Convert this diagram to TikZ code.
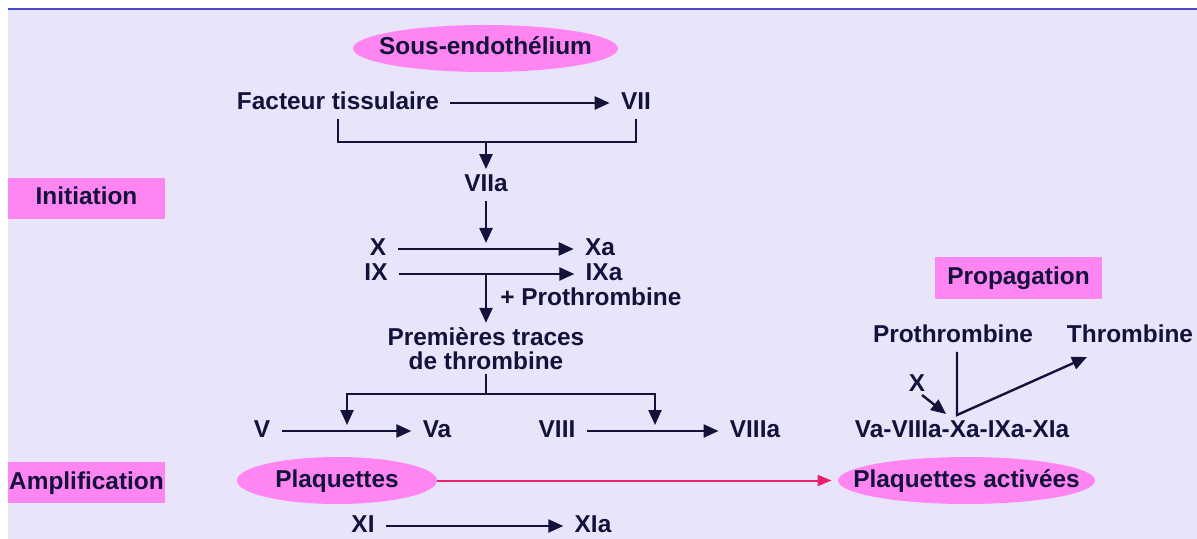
\documentclass[tikz,border=0pt]{standalone}
\usepackage{fontspec}
\setmainfont{Liberation Sans}
\usepackage{xcolor}
\usepackage{tikz}
\usetikzlibrary{positioning, arrows.meta, calc, shapes.geometric}
\definecolor{lavender}{HTML}{E8E5FB}
\definecolor{orchid}{HTML}{FF85F2}
\definecolor{navyink}{HTML}{12123A}
\definecolor{frameblue}{HTML}{4848C8}
\definecolor{plqred}{HTML}{E8206E}
\newcommand{\inblob}[1]{\makebox[0pt]{#1}}
\tikzset{
  lbl/.style={text=navyink, font=\fontsize{12.2}{12.2}\selectfont\bfseries,
              inner xsep=5.5pt, inner ysep=2pt},
  fac/.style={lbl, text height=9pt, text depth=2.5pt},
  phase/.style={fac, fill=orchid, inner sep=0pt, minimum width=78.5pt, minimum height=20.5pt},
  blob/.style={fac, ellipse, fill=orchid, inner sep=0pt, minimum height=23.5pt},
  flow/.style={draw=navyink, line width=1.2pt, -{Triangle[length=7.5pt, width=6.5pt]}},
  link/.style={draw=navyink, line width=1.2pt},
}

\begin{document}
\begin{tikzpicture}[x=0.5pt, y=-0.5pt]
  \useasboundingbox (0,0) rectangle (1197,539);
  \fill[white] (0,0) rectangle (1197,539);
  \fill[lavender] (8,9) rectangle (1197,539);
  \draw[frameblue, line width=0.7pt] (8,9) -- (1197,9);

  % phases
  \node[phase] (init) at (86.5,198.5) {Initiation};
  \node[phase] (ampl) at (86.5,482.5) {Amplification};
  \node[phase, minimum width=83.5pt, minimum height=21pt] (prop) at (1018.5,278) {Propagation};

  % initiation
  \node[blob, minimum width=132.5pt] (sous) at (485.5,48.5) {\inblob{Sous-endothélium}};
  \node[fac] (ft) at (338,103) {Facteur tissulaire};
  \node[fac] (vii) at (636,103) {VII};
  \node[fac] (viia) at (486,185) {VIIa};
  \coordinate (jn) at (486,142);
  \draw[flow] (ft) -- (vii);
  \draw[link] (ft.south) |- (jn) -| (vii.south);
  \draw[flow] (jn) -- (viia);

  \node[fac] (x) at (378,249) {X};
  \node[fac] (xa) at (600,249) {Xa};
  \node[fac] (ix) at (376,274) {IX};
  \node[fac] (ixa) at (604,274) {IXa};
  \draw[flow] (x) -- (xa);
  \draw[flow] (ix) -- (ixa);
  \draw[flow, shorten >=3pt] (viia) -- (viia |- x);

  \node[fac, anchor=west] (plus) at (489,299) {+ Prothrombine};
  \node[lbl, align=center] (pt) at (486,348.5) {Premières traces\\de thrombine};
  \draw[flow] (viia |- ix) -- (pt);

  % amplification
  \node[fac] (v) at (262,431) {V};
  \node[fac] (va) at (437,431) {Va};
  \node[fac] (viii) at (557,431) {VIII};
  \node[fac] (viiia) at (755,431) {VIIIa};
  \coordinate (split) at (486,394);
  \coordinate (vmid) at (347,431);
  \coordinate (viiimid) at (655,431);
  \draw[link] (pt) -- (split);
  \draw[flow, shorten >=3pt] (split) -| (vmid);
  \draw[flow, shorten >=3pt] (split) -| (viiimid);
  \draw[flow] (v) -- (va);
  \draw[flow] (viii) -- (viiia);

  \node[blob, minimum width=100pt] (plq) at (337,480.5) {\inblob{Plaquettes}};
  \node[blob, minimum width=128.5pt] (plqa) at (966.5,480.5) {\inblob{Plaquettes activées}};
  \draw[plqred, line width=1pt, -{Triangle[length=7pt, width=5.5pt]}, shorten >=3pt] (plq) -- (plqa);
  \node[fac] (xi) at (363,526) {XI};
  \node[fac] (xia) at (593,526) {XIa};
  \draw[flow] (xi) -- (xia);

  % propagation
  \node[fac] (pro) at (953,336) {Prothrombine};
  \node[fac] (thr) at (1130,336) {Thrombine};
  \node[fac] (cplx) at (962,431) {Va-VIIIa-Xa-IXa-XIa};
  \node[fac] (xp) at (917,385) {X};
  \coordinate (hub) at (957,415);
  \coordinate (thrtip) at (1087,357);
  \draw[flow] (pro.south -| hub) -- (hub) -- (thrtip);
  \draw[flow] ($(xp.center)+(5,10)$) -- ($(hub)+(-11,-1)$);
\end{tikzpicture}
\end{document}
